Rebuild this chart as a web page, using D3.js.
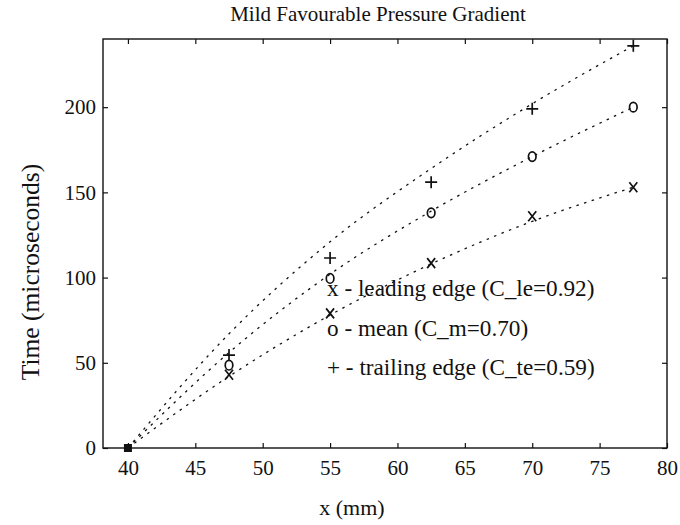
<!DOCTYPE html>
<html>
<head>
<meta charset="utf-8">
<script src="https://cdn.jsdelivr.net/npm/d3@7"></script>
<style>
  html, body { margin: 0; padding: 0; background: #fff; }
  svg { display: block; }
  text { font-family: "Liberation Serif", "Times New Roman", serif; fill: #111; }
</style>
</head>
<body>
<svg id="chart" width="680" height="525"></svg>
<script>
// ---- data ----
const xPositions = [40, 47.5, 55, 62.5, 70, 77.5];
const leadingEdge = [0, 43, 79, 108.5, 136, 153];
const meanValues = [0, 48.6, 99.5, 138, 171, 200];
const trailingEdge = [0, 54.5, 111.5, 156, 199, 236];
// fitted curves
const leadingFit = [0, 42, 78, 108, 133, 153];
const meanFit = [0, 56, 102, 139, 171, 200];
const trailingFit = [0, 67, 121, 164, 202, 236];
const xTicks = [40, 45, 50, 55, 60, 65, 70, 75, 80];
const yTicks = [0, 50, 100, 150, 200];
const legendLabels = ["x - leading edge (C_le=0.92)", "o - mean (C_m=0.70)", "+ - trailing edge (C_te=0.59)"];
const titleText = "Mild Favourable Pressure Gradient";
const xLabel = "x (mm)";
const yLabel = "Time (microseconds)";

// ---- layout ----
const svg = d3.select("#chart");
const L = 103, R = 667, T = 39, B = 448;
const x = d3.scaleLinear().domain([38.15, 80]).range([L, R]);
const y = d3.scaleLinear().domain([0, 240]).range([B, T]);

// frame
svg.append("rect").attr("x", L).attr("y", T).attr("width", R - L).attr("height", B - T)
  .attr("fill", "none").attr("stroke", "#111").attr("stroke-width", 1.4);

// ticks (inward, all four sides)
const tk = 5;
const axB = svg.append("g").attr("transform", `translate(0,${B})`)
  .call(d3.axisBottom(x).tickValues(xTicks).tickSize(-tk).tickPadding(12).tickFormat(d3.format("d")));
const axT = svg.append("g").attr("transform", `translate(0,${T})`)
  .call(d3.axisTop(x).tickValues(xTicks).tickSize(-tk).tickFormat(""));
const axL = svg.append("g").attr("transform", `translate(${L},0)`)
  .call(d3.axisLeft(y).tickValues(yTicks).tickSize(-tk).tickPadding(7).tickFormat(d3.format("d")));
const axR = svg.append("g").attr("transform", `translate(${R},0)`)
  .call(d3.axisRight(y).tickValues(yTicks).tickSize(-tk).tickFormat(""));
[axB, axT, axL, axR].forEach(g => {
  g.select(".domain").remove();
  g.selectAll(".tick line").attr("stroke", "#111").attr("stroke-width", 1.2);
  g.selectAll(".tick text").attr("font-size", 21).attr("font-family", "Liberation Serif").attr("fill", "#111");
});
axB.selectAll(".tick text").attr("dy", "0.71em");

// fitted curves
const line = d3.line().x(d => x(d[0])).y(d => y(d[1])).curve(d3.curveMonotoneX);
[leadingFit, meanFit, trailingFit].forEach(fit => {
  svg.append("path")
    .datum(xPositions.map((xv, i) => [xv, fit[i]]))
    .attr("d", line)
    .attr("fill", "none")
    .attr("stroke", "#111")
    .attr("stroke-width", 1.3)
    .attr("stroke-dasharray", "2.5,5.5");
});

// markers
const mk = svg.append("g").attr("stroke", "#111").attr("fill", "none").attr("stroke-width", 1.7);
xPositions.forEach((xv, i) => {
  if (i === 0) return;
  // x marker
  const lx = x(xv), ly = y(leadingEdge[i]);
  mk.append("path").attr("d", `M${lx-4},${ly-5}L${lx+4},${ly+5}M${lx+4},${ly-5}L${lx-4},${ly+5}`);
  // o marker
  mk.append("ellipse").attr("cx", x(xv)).attr("cy", y(meanValues[i])).attr("rx", 3.8).attr("ry", 4.8);
  // + marker
  const px = x(xv), py = y(trailingEdge[i]);
  mk.append("path").attr("d", `M${px-6},${py}L${px+6},${py}M${px},${py-6}L${px},${py+6}`);
});
// overlapping markers at the origin point
svg.append("rect")
  .attr("x", x(xPositions[0]) - 4).attr("y", y(leadingEdge[0]) - 4)
  .attr("width", 8).attr("height", 8).attr("fill", "#111");

// legend text
legendLabels.forEach((t, i) => {
  svg.append("text").attr("x", 327).attr("y", 296 + i * 39.5)
    .attr("font-size", 23.2).text(t);
});

// title and axis labels
svg.append("text").attr("x", 378).attr("y", 21).attr("text-anchor", "middle")
  .attr("font-size", 21).text(titleText);
svg.append("text").attr("x", 352).attr("y", 515).attr("text-anchor", "middle")
  .attr("font-size", 22).text(xLabel);
svg.append("text").attr("transform", "translate(39,272) rotate(-90)").attr("text-anchor", "middle")
  .attr("font-size", 25.5).text(yLabel);
</script>
</body>
</html>
